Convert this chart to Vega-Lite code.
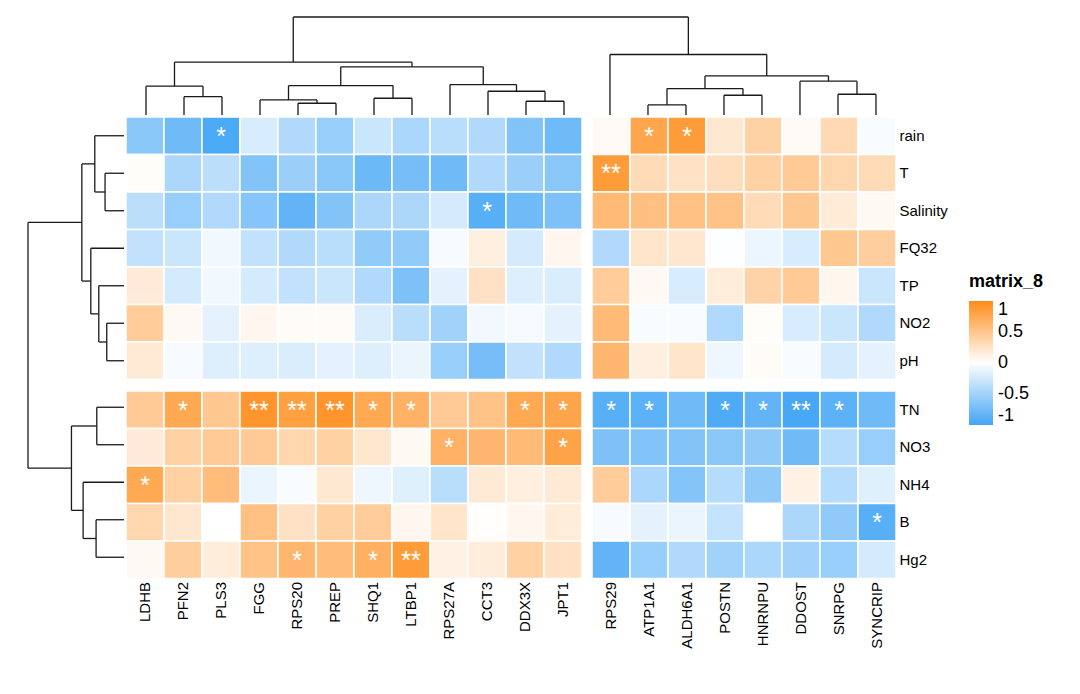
{
"$schema": "https://vega.github.io/schema/vega-lite/v6.json",
"background": "#FFFFFF",
"padding": {"left": 27, "top": 16, "right": 5, "bottom": 5},
"config": {"view": {"stroke": null}, "font": "Liberation Sans", "axis": {"labelFont": "Liberation Sans"}, "legend": {"labelFont": "Liberation Sans", "titleFont": "Liberation Sans"}},
"datasets": {
"cells": [
{"r":"rain","c":"LDHB","v":-0.62,"s":""},{"r":"rain","c":"PFN2","v":-0.76,"s":""},{"r":"rain","c":"PLS3","v":-0.95,"s":"*"},{"r":"rain","c":"FGG","v":-0.21,"s":""},{"r":"rain","c":"RPS20","v":-0.42,"s":""},{"r":"rain","c":"PREP","v":-0.55,"s":""},{"r":"rain","c":"SHQ1","v":-0.28,"s":""},{"r":"rain","c":"LTBP1","v":-0.45,"s":""},{"r":"rain","c":"RPS27A","v":-0.37,"s":""},{"r":"rain","c":"CCT3","v":-0.42,"s":""},{"r":"rain","c":"DDX3X","v":-0.66,"s":""},{"r":"rain","c":"JPT1","v":-0.76,"s":""},{"r":"rain","c":"RPS29","v":0.04,"s":""},{"r":"rain","c":"ATP1A1","v":0.78,"s":"*"},{"r":"rain","c":"ALDH6A1","v":0.86,"s":"*"},{"r":"rain","c":"POSTN","v":0.2,"s":""},{"r":"rain","c":"HNRNPU","v":0.39,"s":""},{"r":"rain","c":"DDOST","v":0.04,"s":""},{"r":"rain","c":"SNRPG","v":0.33,"s":""},{"r":"rain","c":"SYNCRIP","v":-0.03,"s":""},
{"r":"T","c":"LDHB","v":0.02,"s":""},{"r":"T","c":"PFN2","v":-0.44,"s":""},{"r":"T","c":"PLS3","v":-0.36,"s":""},{"r":"T","c":"FGG","v":-0.66,"s":""},{"r":"T","c":"RPS20","v":-0.53,"s":""},{"r":"T","c":"PREP","v":-0.62,"s":""},{"r":"T","c":"SHQ1","v":-0.78,"s":""},{"r":"T","c":"LTBP1","v":-0.72,"s":""},{"r":"T","c":"RPS27A","v":-0.76,"s":""},{"r":"T","c":"CCT3","v":-0.42,"s":""},{"r":"T","c":"DDX3X","v":-0.53,"s":""},{"r":"T","c":"JPT1","v":-0.62,"s":""},{"r":"T","c":"RPS29","v":0.86,"s":"**"},{"r":"T","c":"ATP1A1","v":0.31,"s":""},{"r":"T","c":"ALDH6A1","v":0.26,"s":""},{"r":"T","c":"POSTN","v":0.29,"s":""},{"r":"T","c":"HNRNPU","v":0.4,"s":""},{"r":"T","c":"DDOST","v":0.46,"s":""},{"r":"T","c":"SNRPG","v":0.35,"s":""},{"r":"T","c":"SYNCRIP","v":0.31,"s":""},
{"r":"Salinity","c":"LDHB","v":-0.36,"s":""},{"r":"Salinity","c":"PFN2","v":-0.55,"s":""},{"r":"Salinity","c":"PLS3","v":-0.42,"s":""},{"r":"Salinity","c":"FGG","v":-0.64,"s":""},{"r":"Salinity","c":"RPS20","v":-0.83,"s":""},{"r":"Salinity","c":"PREP","v":-0.66,"s":""},{"r":"Salinity","c":"SHQ1","v":-0.44,"s":""},{"r":"Salinity","c":"LTBP1","v":-0.44,"s":""},{"r":"Salinity","c":"RPS27A","v":-0.22,"s":""},{"r":"Salinity","c":"CCT3","v":-0.89,"s":"*"},{"r":"Salinity","c":"DDX3X","v":-0.76,"s":""},{"r":"Salinity","c":"JPT1","v":-0.69,"s":""},{"r":"Salinity","c":"RPS29","v":0.6,"s":""},{"r":"Salinity","c":"ATP1A1","v":0.55,"s":""},{"r":"Salinity","c":"ALDH6A1","v":0.54,"s":""},{"r":"Salinity","c":"POSTN","v":0.52,"s":""},{"r":"Salinity","c":"HNRNPU","v":0.31,"s":""},{"r":"Salinity","c":"DDOST","v":0.48,"s":""},{"r":"Salinity","c":"SNRPG","v":0.17,"s":""},{"r":"Salinity","c":"SYNCRIP","v":0.05,"s":""},
{"r":"FQ32","c":"LDHB","v":-0.33,"s":""},{"r":"FQ32","c":"PFN2","v":-0.28,"s":""},{"r":"FQ32","c":"PLS3","v":-0.07,"s":""},{"r":"FQ32","c":"FGG","v":-0.33,"s":""},{"r":"FQ32","c":"RPS20","v":-0.42,"s":""},{"r":"FQ32","c":"PREP","v":-0.37,"s":""},{"r":"FQ32","c":"SHQ1","v":-0.58,"s":""},{"r":"FQ32","c":"LTBP1","v":-0.58,"s":""},{"r":"FQ32","c":"RPS27A","v":-0.04,"s":""},{"r":"FQ32","c":"CCT3","v":0.14,"s":""},{"r":"FQ32","c":"DDX3X","v":-0.22,"s":""},{"r":"FQ32","c":"JPT1","v":0.07,"s":""},{"r":"FQ32","c":"RPS29","v":-0.42,"s":""},{"r":"FQ32","c":"ATP1A1","v":0.23,"s":""},{"r":"FQ32","c":"ALDH6A1","v":0.21,"s":""},{"r":"FQ32","c":"POSTN","v":-0.01,"s":""},{"r":"FQ32","c":"HNRNPU","v":-0.1,"s":""},{"r":"FQ32","c":"DDOST","v":-0.21,"s":""},{"r":"FQ32","c":"SNRPG","v":0.48,"s":""},{"r":"FQ32","c":"SYNCRIP","v":0.43,"s":""},
{"r":"TP","c":"LDHB","v":0.17,"s":""},{"r":"TP","c":"PFN2","v":-0.23,"s":""},{"r":"TP","c":"PLS3","v":-0.07,"s":""},{"r":"TP","c":"FGG","v":-0.23,"s":""},{"r":"TP","c":"RPS20","v":-0.33,"s":""},{"r":"TP","c":"PREP","v":-0.28,"s":""},{"r":"TP","c":"SHQ1","v":-0.42,"s":""},{"r":"TP","c":"LTBP1","v":-0.69,"s":""},{"r":"TP","c":"RPS27A","v":-0.14,"s":""},{"r":"TP","c":"CCT3","v":0.25,"s":""},{"r":"TP","c":"DDX3X","v":-0.18,"s":""},{"r":"TP","c":"JPT1","v":-0.2,"s":""},{"r":"TP","c":"RPS29","v":0.44,"s":""},{"r":"TP","c":"ATP1A1","v":0.05,"s":""},{"r":"TP","c":"ALDH6A1","v":-0.21,"s":""},{"r":"TP","c":"POSTN","v":0.16,"s":""},{"r":"TP","c":"HNRNPU","v":0.38,"s":""},{"r":"TP","c":"DDOST","v":0.46,"s":""},{"r":"TP","c":"SNRPG","v":0.08,"s":""},{"r":"TP","c":"SYNCRIP","v":-0.28,"s":""},
{"r":"NO2","c":"LDHB","v":0.44,"s":""},{"r":"NO2","c":"PFN2","v":0.05,"s":""},{"r":"NO2","c":"PLS3","v":-0.14,"s":""},{"r":"NO2","c":"FGG","v":0.07,"s":""},{"r":"NO2","c":"RPS20","v":0.03,"s":""},{"r":"NO2","c":"PREP","v":0.03,"s":""},{"r":"NO2","c":"SHQ1","v":-0.2,"s":""},{"r":"NO2","c":"LTBP1","v":-0.37,"s":""},{"r":"NO2","c":"RPS27A","v":-0.5,"s":""},{"r":"NO2","c":"CCT3","v":-0.07,"s":""},{"r":"NO2","c":"DDX3X","v":-0.06,"s":""},{"r":"NO2","c":"JPT1","v":-0.14,"s":""},{"r":"NO2","c":"RPS29","v":0.6,"s":""},{"r":"NO2","c":"ATP1A1","v":-0.03,"s":""},{"r":"NO2","c":"ALDH6A1","v":-0.03,"s":""},{"r":"NO2","c":"POSTN","v":-0.42,"s":""},{"r":"NO2","c":"HNRNPU","v":0.02,"s":""},{"r":"NO2","c":"DDOST","v":-0.21,"s":""},{"r":"NO2","c":"SNRPG","v":-0.28,"s":""},{"r":"NO2","c":"SYNCRIP","v":-0.42,"s":""},
{"r":"pH","c":"LDHB","v":0.18,"s":""},{"r":"pH","c":"PFN2","v":-0.04,"s":""},{"r":"pH","c":"PLS3","v":-0.18,"s":""},{"r":"pH","c":"FGG","v":-0.18,"s":""},{"r":"pH","c":"RPS20","v":-0.2,"s":""},{"r":"pH","c":"PREP","v":-0.15,"s":""},{"r":"pH","c":"SHQ1","v":-0.18,"s":""},{"r":"pH","c":"LTBP1","v":-0.11,"s":""},{"r":"pH","c":"RPS27A","v":-0.55,"s":""},{"r":"pH","c":"CCT3","v":-0.72,"s":""},{"r":"pH","c":"DDX3X","v":-0.33,"s":""},{"r":"pH","c":"JPT1","v":-0.42,"s":""},{"r":"pH","c":"RPS29","v":0.63,"s":""},{"r":"pH","c":"ATP1A1","v":0.14,"s":""},{"r":"pH","c":"ALDH6A1","v":0.23,"s":""},{"r":"pH","c":"POSTN","v":-0.09,"s":""},{"r":"pH","c":"HNRNPU","v":0.03,"s":""},{"r":"pH","c":"DDOST","v":-0.03,"s":""},{"r":"pH","c":"SNRPG","v":-0.23,"s":""},{"r":"pH","c":"SYNCRIP","v":-0.15,"s":""},
{"r":"TN","c":"LDHB","v":0.46,"s":""},{"r":"TN","c":"PFN2","v":0.75,"s":"*"},{"r":"TN","c":"PLS3","v":0.48,"s":""},{"r":"TN","c":"FGG","v":0.92,"s":"**"},{"r":"TN","c":"RPS20","v":0.83,"s":"**"},{"r":"TN","c":"PREP","v":0.92,"s":"**"},{"r":"TN","c":"SHQ1","v":0.75,"s":"*"},{"r":"TN","c":"LTBP1","v":0.67,"s":"*"},{"r":"TN","c":"RPS27A","v":0.46,"s":""},{"r":"TN","c":"CCT3","v":0.52,"s":""},{"r":"TN","c":"DDX3X","v":0.75,"s":"*"},{"r":"TN","c":"JPT1","v":0.78,"s":"*"},{"r":"TN","c":"RPS29","v":-0.89,"s":"*"},{"r":"TN","c":"ATP1A1","v":-0.86,"s":"*"},{"r":"TN","c":"ALDH6A1","v":-0.76,"s":""},{"r":"TN","c":"POSTN","v":-0.93,"s":"*"},{"r":"TN","c":"HNRNPU","v":-0.83,"s":"*"},{"r":"TN","c":"DDOST","v":-0.97,"s":"**"},{"r":"TN","c":"SNRPG","v":-0.86,"s":"*"},{"r":"TN","c":"SYNCRIP","v":-0.76,"s":""},
{"r":"NO3","c":"LDHB","v":0.17,"s":""},{"r":"NO3","c":"PFN2","v":0.4,"s":""},{"r":"NO3","c":"PLS3","v":0.46,"s":""},{"r":"NO3","c":"FGG","v":0.46,"s":""},{"r":"NO3","c":"RPS20","v":0.35,"s":""},{"r":"NO3","c":"PREP","v":0.4,"s":""},{"r":"NO3","c":"SHQ1","v":0.21,"s":""},{"r":"NO3","c":"LTBP1","v":0.05,"s":""},{"r":"NO3","c":"RPS27A","v":0.67,"s":"*"},{"r":"NO3","c":"CCT3","v":0.63,"s":""},{"r":"NO3","c":"DDX3X","v":0.6,"s":""},{"r":"NO3","c":"JPT1","v":0.8,"s":"*"},{"r":"NO3","c":"RPS29","v":-0.69,"s":""},{"r":"NO3","c":"ATP1A1","v":-0.66,"s":""},{"r":"NO3","c":"ALDH6A1","v":-0.66,"s":""},{"r":"NO3","c":"POSTN","v":-0.62,"s":""},{"r":"NO3","c":"HNRNPU","v":-0.59,"s":""},{"r":"NO3","c":"DDOST","v":-0.76,"s":""},{"r":"NO3","c":"SNRPG","v":-0.39,"s":""},{"r":"NO3","c":"SYNCRIP","v":-0.55,"s":""},
{"r":"NH4","c":"LDHB","v":0.75,"s":"*"},{"r":"NH4","c":"PFN2","v":0.4,"s":""},{"r":"NH4","c":"PLS3","v":0.58,"s":""},{"r":"NH4","c":"FGG","v":-0.11,"s":""},{"r":"NH4","c":"RPS20","v":-0.03,"s":""},{"r":"NH4","c":"PREP","v":0.2,"s":""},{"r":"NH4","c":"SHQ1","v":-0.09,"s":""},{"r":"NH4","c":"LTBP1","v":-0.17,"s":""},{"r":"NH4","c":"RPS27A","v":-0.37,"s":""},{"r":"NH4","c":"CCT3","v":0.18,"s":""},{"r":"NH4","c":"DDX3X","v":0.14,"s":""},{"r":"NH4","c":"JPT1","v":0.18,"s":""},{"r":"NH4","c":"RPS29","v":0.44,"s":""},{"r":"NH4","c":"ATP1A1","v":-0.45,"s":""},{"r":"NH4","c":"ALDH6A1","v":-0.65,"s":""},{"r":"NH4","c":"POSTN","v":-0.39,"s":""},{"r":"NH4","c":"HNRNPU","v":-0.59,"s":""},{"r":"NH4","c":"DDOST","v":0.12,"s":""},{"r":"NH4","c":"SNRPG","v":-0.39,"s":""},{"r":"NH4","c":"SYNCRIP","v":-0.17,"s":""},
{"r":"B","c":"LDHB","v":0.35,"s":""},{"r":"B","c":"PFN2","v":0.21,"s":""},{"r":"B","c":"PLS3","v":0.0,"s":""},{"r":"B","c":"FGG","v":0.54,"s":""},{"r":"B","c":"RPS20","v":0.25,"s":""},{"r":"B","c":"PREP","v":0.4,"s":""},{"r":"B","c":"SHQ1","v":0.44,"s":""},{"r":"B","c":"LTBP1","v":0.07,"s":""},{"r":"B","c":"RPS27A","v":0.23,"s":""},{"r":"B","c":"CCT3","v":0.01,"s":""},{"r":"B","c":"DDX3X","v":0.07,"s":""},{"r":"B","c":"JPT1","v":0.16,"s":""},{"r":"B","c":"RPS29","v":-0.04,"s":""},{"r":"B","c":"ATP1A1","v":-0.14,"s":""},{"r":"B","c":"ALDH6A1","v":-0.11,"s":""},{"r":"B","c":"POSTN","v":-0.31,"s":""},{"r":"B","c":"HNRNPU","v":0.0,"s":""},{"r":"B","c":"DDOST","v":-0.44,"s":""},{"r":"B","c":"SNRPG","v":-0.59,"s":""},{"r":"B","c":"SYNCRIP","v":-0.89,"s":"*"},
{"r":"Hg2","c":"LDHB","v":0.05,"s":""},{"r":"Hg2","c":"PFN2","v":0.43,"s":""},{"r":"Hg2","c":"PLS3","v":0.16,"s":""},{"r":"Hg2","c":"FGG","v":0.52,"s":""},{"r":"Hg2","c":"RPS20","v":0.63,"s":"*"},{"r":"Hg2","c":"PREP","v":0.58,"s":""},{"r":"Hg2","c":"SHQ1","v":0.69,"s":"*"},{"r":"Hg2","c":"LTBP1","v":0.86,"s":"**"},{"r":"Hg2","c":"RPS27A","v":0.12,"s":""},{"r":"Hg2","c":"CCT3","v":0.16,"s":""},{"r":"Hg2","c":"DDX3X","v":0.4,"s":""},{"r":"Hg2","c":"JPT1","v":0.26,"s":""},{"r":"Hg2","c":"RPS29","v":-0.83,"s":""},{"r":"Hg2","c":"ATP1A1","v":-0.55,"s":""},{"r":"Hg2","c":"ALDH6A1","v":-0.42,"s":""},{"r":"Hg2","c":"POSTN","v":-0.5,"s":""},{"r":"Hg2","c":"HNRNPU","v":-0.45,"s":""},{"r":"Hg2","c":"DDOST","v":-0.5,"s":""},{"r":"Hg2","c":"SNRPG","v":-0.55,"s":""},{"r":"Hg2","c":"SYNCRIP","v":-0.23,"s":""}
],
"colDendro": [
{"n":"A","xl":1.5,"xr":2.5,"hl":0,"hr":0,"h":18.3},
{"n":"B","xl":0.5,"xr":2.0,"hl":0,"hr":18.3,"h":28.7},
{"n":"C1","xl":4.5,"xr":5.5,"hl":0,"hr":0,"h":11.7},
{"n":"C2","xl":3.5,"xr":5.0,"hl":0,"hr":11.7,"h":15},
{"n":"D","xl":6.5,"xr":7.5,"hl":0,"hr":0,"h":16.7},
{"n":"E","xl":4.25,"xr":7.0,"hl":15,"hr":16.7,"h":29.3},
{"n":"F1","xl":10.5,"xr":11.5,"hl":0,"hr":0,"h":13.7},
{"n":"F2","xl":9.5,"xr":11.0,"hl":0,"hr":13.7,"h":23.7},
{"n":"F3","xl":8.5,"xr":10.25,"hl":0,"hr":23.7,"h":30.3},
{"n":"G","xl":5.625,"xr":9.375,"hl":29.3,"hr":30.3,"h":48},
{"n":"H","xl":1.25,"xr":7.5,"hl":28.7,"hr":48,"h":52.7},
{"n":"I1","xl":13.71,"xr":14.71,"hl":0,"hr":0,"h":10},
{"n":"I2","xl":15.71,"xr":16.71,"hl":0,"hr":0,"h":19.7},
{"n":"I3","xl":14.21,"xr":16.21,"hl":10,"hr":19.7,"h":26.3},
{"n":"J1","xl":18.71,"xr":19.71,"hl":0,"hr":0,"h":20.7},
{"n":"J2","xl":17.71,"xr":19.21,"hl":0,"hr":20.7,"h":33.7},
{"n":"K","xl":15.21,"xr":18.46,"hl":26.3,"hr":33.7,"h":39},
{"n":"L","xl":12.71,"xr":16.835,"hl":0,"hr":39,"h":60.3},
{"n":"root","xl":4.375,"xr":14.7725,"hl":52.7,"hr":60.3,"h":97.7}
],
"rowDendro": [
{"n":"a1","yl":1.5,"yr":2.5,"hl":0,"hr":0,"h":19},
{"n":"a2","yl":0.5,"yr":2.0,"hl":0,"hr":19,"h":29.3},
{"n":"b1","yl":5.5,"yr":6.5,"hl":0,"hr":0,"h":17.3},
{"n":"b2","yl":4.5,"yr":6.0,"hl":0,"hr":17.3,"h":25.3},
{"n":"b3","yl":3.5,"yr":5.25,"hl":0,"hr":25.3,"h":33.3},
{"n":"c","yl":1.25,"yr":4.375,"hl":29.3,"hr":33.3,"h":42.3},
{"n":"d1","yl":7.74,"yr":8.74,"hl":0,"hr":0,"h":27.3},
{"n":"e1","yl":10.74,"yr":11.74,"hl":0,"hr":0,"h":28},
{"n":"e2","yl":9.74,"yr":11.24,"hl":0,"hr":28,"h":41},
{"n":"f","yl":8.24,"yr":10.49,"hl":27.3,"hr":41,"h":52.7},
{"n":"root","yl":2.8125,"yr":9.365,"hl":42.3,"hr":52.7,"h":96.3}
]
},
"spacing": 0,
"vconcat": [
{"spacing": 3, "hconcat": [
  {"width": 96, "height": 98, "data": {"values": []}, "mark": "point"},
  {"width": 768, "height": 98, "data": {"name": "colDendro"},
   "layer": [
    {"mark": {"type": "rule", "color": "#1a1a1a", "strokeWidth": 1.3}, "encoding": {
      "x": {"field": "xl", "type": "quantitative", "scale": {"domain": [0, 20.2105], "nice": false, "zero": false}, "axis": null},
      "x2": {"field": "xr"},
      "y": {"field": "h", "type": "quantitative", "scale": {"domain": [0, 97.7], "nice": false, "zero": false}, "axis": null}}},
    {"mark": {"type": "rule", "color": "#1a1a1a", "strokeWidth": 1.3}, "encoding": {
      "x": {"field": "xl", "type": "quantitative"},
      "y": {"field": "hl", "type": "quantitative"},
      "y2": {"field": "h"}}},
    {"mark": {"type": "rule", "color": "#1a1a1a", "strokeWidth": 1.3}, "encoding": {
      "x": {"field": "xr", "type": "quantitative"},
      "y": {"field": "hr", "type": "quantitative"},
      "y2": {"field": "h"}}}
   ]}
]},
{"spacing": 0, "hconcat": [
  {"width": 96, "height": 459, "data": {"name": "rowDendro"},
   "layer": [
    {"mark": {"type": "rule", "color": "#1a1a1a", "strokeWidth": 1.3}, "encoding": {
      "x": {"field": "h", "type": "quantitative", "scale": {"domain": [0, 96.3], "reverse": true, "nice": false, "zero": false}, "axis": null},
      "y": {"field": "yl", "type": "quantitative", "scale": {"domain": [0, 12.24], "reverse": true, "nice": false, "zero": false}, "axis": null},
      "y2": {"field": "yr"}}},
    {"mark": {"type": "rule", "color": "#1a1a1a", "strokeWidth": 1.3}, "encoding": {
      "x": {"field": "hl", "type": "quantitative"},
      "x2": {"field": "h"},
      "y": {"field": "yl", "type": "quantitative"}}},
    {"mark": {"type": "rule", "color": "#1a1a1a", "strokeWidth": 1.3}, "encoding": {
      "x": {"field": "hr", "type": "quantitative"},
      "x2": {"field": "h"},
      "y": {"field": "yr", "type": "quantitative"}}}
   ]},
  {"spacing": 9, "vconcat": [
    {"spacing": 8, "hconcat": [
      {"width": 456, "height": 262.5, "data": {"name": "cells"},
       "transform": [{"filter": {"field": "r", "oneOf": ["rain","T","Salinity","FQ32","TP","NO2","pH"]}}, {"filter": {"field": "c", "oneOf": ["LDHB","PFN2","PLS3","FGG","RPS20","PREP","SHQ1","LTBP1","RPS27A","CCT3","DDX3X","JPT1"]}}],
       "encoding": {
         "x": {"field": "c", "type": "nominal", "scale": {"domain": ["LDHB","PFN2","PLS3","FGG","RPS20","PREP","SHQ1","LTBP1","RPS27A","CCT3","DDX3X","JPT1"], "paddingInner": 0, "paddingOuter": 0}, "axis": null},
         "y": {"field": "r", "type": "nominal", "scale": {"domain": ["rain","T","Salinity","FQ32","TP","NO2","pH"], "paddingInner": 0, "paddingOuter": 0}, "axis": null}},
       "layer": [
         {"mark": {"type": "rect", "stroke": "#FFFFFF", "strokeWidth": 1.5}, "encoding": {"color": {"field": "v", "type": "quantitative", "scale": {"type": "linear", "domain": [-1, 0, 1], "range": ["#42A5F5", "#FFFFFF", "#FF8C1A"], "interpolate": "rgb"}, "legend": {"title": "matrix_8", "orient": "none", "legendX": 941, "legendY": 256, "gradientLength": 124, "gradientThickness": 24, "gradientStrokeWidth": 0, "values": [-1, -0.5, 0, 0.5, 1], "labelExpr": "'' + datum.value", "labelBaseline": "middle", "titleFontSize": 18, "titleFontWeight": "bold", "titleColor": "#000000", "labelFontSize": 18, "labelColor": "#000000", "titlePadding": 10, "labelOffset": 5}}}},
         {"mark": {"type": "text", "color": "#FFFFFF", "fontSize": 25, "baseline": "alphabetic", "dy": 9}, "encoding": {"text": {"field": "s"}}}
       ]},
      {"width": 304, "height": 262.5, "data": {"name": "cells"},
       "transform": [{"filter": {"field": "r", "oneOf": ["rain","T","Salinity","FQ32","TP","NO2","pH"]}}, {"filter": {"field": "c", "oneOf": ["RPS29","ATP1A1","ALDH6A1","POSTN","HNRNPU","DDOST","SNRPG","SYNCRIP"]}}],
       "encoding": {
         "x": {"field": "c", "type": "nominal", "scale": {"domain": ["RPS29","ATP1A1","ALDH6A1","POSTN","HNRNPU","DDOST","SNRPG","SYNCRIP"], "paddingInner": 0, "paddingOuter": 0}, "axis": null},
         "y": {"field": "r", "type": "nominal", "scale": {"domain": ["rain","T","Salinity","FQ32","TP","NO2","pH"], "paddingInner": 0, "paddingOuter": 0}, "axis": {"orient": "right", "title": null, "ticks": false, "domain": false, "labelFontSize": 15, "labelColor": "#000000", "labelPadding": 3}}},
       "layer": [
         {"mark": {"type": "rect", "stroke": "#FFFFFF", "strokeWidth": 1.5}, "encoding": {"color": {"field": "v", "type": "quantitative", "scale": {"type": "linear", "domain": [-1, 0, 1], "range": ["#42A5F5", "#FFFFFF", "#FF8C1A"], "interpolate": "rgb"}, "legend": {"title": "matrix_8", "orient": "none", "legendX": 941, "legendY": 256, "gradientLength": 124, "gradientThickness": 24, "gradientStrokeWidth": 0, "values": [-1, -0.5, 0, 0.5, 1], "labelExpr": "'' + datum.value", "labelBaseline": "middle", "titleFontSize": 18, "titleFontWeight": "bold", "titleColor": "#000000", "labelFontSize": 18, "labelColor": "#000000", "titlePadding": 10, "labelOffset": 5}}}},
         {"mark": {"type": "text", "color": "#FFFFFF", "fontSize": 25, "baseline": "alphabetic", "dy": 9}, "encoding": {"text": {"field": "s"}}}
       ]}
    ]},
    {"spacing": 8, "hconcat": [
      {"width": 456, "height": 187.5, "data": {"name": "cells"},
       "transform": [{"filter": {"field": "r", "oneOf": ["TN","NO3","NH4","B","Hg2"]}}, {"filter": {"field": "c", "oneOf": ["LDHB","PFN2","PLS3","FGG","RPS20","PREP","SHQ1","LTBP1","RPS27A","CCT3","DDX3X","JPT1"]}}],
       "encoding": {
         "x": {"field": "c", "type": "nominal", "scale": {"domain": ["LDHB","PFN2","PLS3","FGG","RPS20","PREP","SHQ1","LTBP1","RPS27A","CCT3","DDX3X","JPT1"], "paddingInner": 0, "paddingOuter": 0}, "axis": {"orient": "bottom", "title": null, "ticks": false, "domain": false, "labelAngle": -90, "labelFontSize": 15, "labelColor": "#000000", "labelPadding": 3}},
         "y": {"field": "r", "type": "nominal", "scale": {"domain": ["TN","NO3","NH4","B","Hg2"], "paddingInner": 0, "paddingOuter": 0}, "axis": null}},
       "layer": [
         {"mark": {"type": "rect", "stroke": "#FFFFFF", "strokeWidth": 1.5}, "encoding": {"color": {"field": "v", "type": "quantitative", "scale": {"type": "linear", "domain": [-1, 0, 1], "range": ["#42A5F5", "#FFFFFF", "#FF8C1A"], "interpolate": "rgb"}, "legend": {"title": "matrix_8", "orient": "none", "legendX": 941, "legendY": 256, "gradientLength": 124, "gradientThickness": 24, "gradientStrokeWidth": 0, "values": [-1, -0.5, 0, 0.5, 1], "labelExpr": "'' + datum.value", "labelBaseline": "middle", "titleFontSize": 18, "titleFontWeight": "bold", "titleColor": "#000000", "labelFontSize": 18, "labelColor": "#000000", "titlePadding": 10, "labelOffset": 5}}}},
         {"mark": {"type": "text", "color": "#FFFFFF", "fontSize": 25, "baseline": "alphabetic", "dy": 9}, "encoding": {"text": {"field": "s"}}}
       ]},
      {"width": 304, "height": 187.5, "data": {"name": "cells"},
       "transform": [{"filter": {"field": "r", "oneOf": ["TN","NO3","NH4","B","Hg2"]}}, {"filter": {"field": "c", "oneOf": ["RPS29","ATP1A1","ALDH6A1","POSTN","HNRNPU","DDOST","SNRPG","SYNCRIP"]}}],
       "encoding": {
         "x": {"field": "c", "type": "nominal", "scale": {"domain": ["RPS29","ATP1A1","ALDH6A1","POSTN","HNRNPU","DDOST","SNRPG","SYNCRIP"], "paddingInner": 0, "paddingOuter": 0}, "axis": {"orient": "bottom", "title": null, "ticks": false, "domain": false, "labelAngle": -90, "labelFontSize": 15, "labelColor": "#000000", "labelPadding": 3}},
         "y": {"field": "r", "type": "nominal", "scale": {"domain": ["TN","NO3","NH4","B","Hg2"], "paddingInner": 0, "paddingOuter": 0}, "axis": {"orient": "right", "title": null, "ticks": false, "domain": false, "labelFontSize": 15, "labelColor": "#000000", "labelPadding": 3}}},
       "layer": [
         {"mark": {"type": "rect", "stroke": "#FFFFFF", "strokeWidth": 1.5}, "encoding": {"color": {"field": "v", "type": "quantitative", "scale": {"type": "linear", "domain": [-1, 0, 1], "range": ["#42A5F5", "#FFFFFF", "#FF8C1A"], "interpolate": "rgb"}, "legend": {"title": "matrix_8", "orient": "none", "legendX": 941, "legendY": 256, "gradientLength": 124, "gradientThickness": 24, "gradientStrokeWidth": 0, "values": [-1, -0.5, 0, 0.5, 1], "labelExpr": "'' + datum.value", "labelBaseline": "middle", "titleFontSize": 18, "titleFontWeight": "bold", "titleColor": "#000000", "labelFontSize": 18, "labelColor": "#000000", "titlePadding": 10, "labelOffset": 5}}}},
         {"mark": {"type": "text", "color": "#FFFFFF", "fontSize": 25, "baseline": "alphabetic", "dy": 9}, "encoding": {"text": {"field": "s"}}}
       ]}
    ]}
  ]}
]}
]
}
